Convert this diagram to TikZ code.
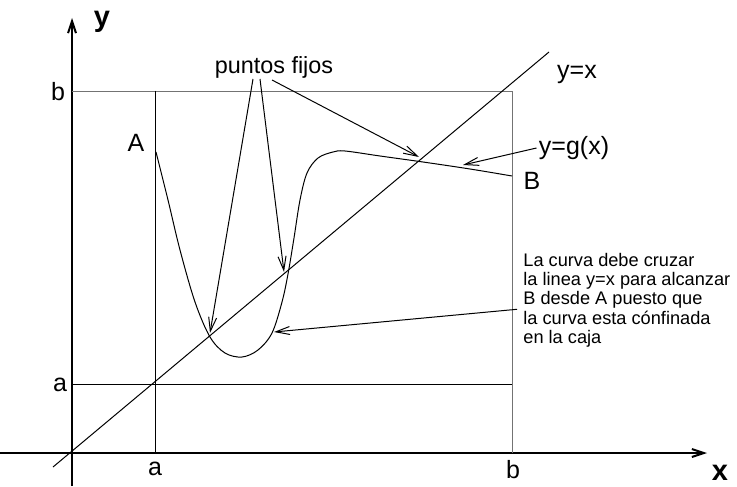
\documentclass[tikz,border=0pt]{standalone}
\usepackage{fontspec}
\setmainfont{Liberation Sans}
\usetikzlibrary{arrows.meta, calc}
\tikzset{
  eje/.style={line width=1pt, -{Straight Barb[length=6pt,width=4pt]}},
  caja/.style={line width=0.4pt},
  cajagris/.style={caja, draw=black!55},
  curva/.style={line width=0.5pt},
  flecha/.style={line width=0.5pt, -{Straight Barb[length=7pt,width=4pt]}},
  etiq/.style={font=\fontsize{12.5}{15}\selectfont, inner sep=0pt},
  ejeetiq/.style={font=\fontsize{14.5}{17}\selectfont\bfseries, inner sep=0pt},
  nota/.style={font=\fontsize{9.1}{9.6}\selectfont, align=left, inner sep=0pt},
}
\begin{document}
\begin{tikzpicture}[x=0.5pt, y=-0.5pt]
  \useasboundingbox (0,0) rectangle (737,486);
  % ejes
  \coordinate (ejex0) at (0,453);
  \coordinate (ejex1) at (707,453);
  \coordinate (ejey0) at (72,486);
  \coordinate (ejey1) at (72,18);
  \draw[eje] (ejex0) -- (ejex1);
  \draw[eje] (ejey0) -- (ejey1);
  \node[ejeetiq] (xlab) at (720,473) {x};
  \node[ejeetiq] (ylab) at (102,22) {y};
  % caja [a,b]x[a,b]
  \coordinate (aa) at (155,384);
  \coordinate (ab) at (155,91);
  \coordinate (ba) at (512,384);
  \coordinate (bb) at (512,91);
  \draw[cajagris] (72,91) -- (bb) -- (512,453);
  \draw[caja] (72,384) -- (ba);
  \draw[caja] (ab) -- (155,453);
  \node[etiq] (bizq) at (58,92) {b};
  \node[etiq] (aizq) at (60,385) {a};
  \node[etiq] (aabj) at (155,469) {a};
  \node[etiq] (babj) at (513,470) {b};
  % recta y=x
  \coordinate (diag0) at (53,467);
  \coordinate (diag1) at (549,52);
  \draw[curva] (diag0) -- (diag1);
  \node[etiq] (yx) at (577,74) {y=x};
  % curva y=g(x)
  \coordinate (ini) at (156,152);
  \coordinate (fin) at (512,176);
  \draw[curva] plot[smooth, tension=0.55] coordinates {(ini) (168,200) (180,250)
    (195,302) (210,337) (225,353) (242,357) (258,350) (272,333) (282,302)
    (288,274) (294,238) (300,200) (307,173) (318,158) (333,152) (345,151)
    (380,156) (423,162) (470,169) (fin)};
  \node[etiq] (Alab) at (136,143) {A};
  \node[etiq] (Blab) at (532,181) {B};
  \node[etiq] (gx) at (574,148) {y=g(x)};
  % puntos fijos
  \node[etiq, font=\fontsize{11.7}{14}\selectfont, anchor=south] (fijos) at (274,79) {puntos fijos};
  \coordinate (pf1) at (210,333);
  \coordinate (pf2) at (284,272);
  \coordinate (pf3) at (419,157);
  \draw[flecha] ($(fijos.south)+(-21,0)$) -- (pf1);
  \draw[flecha] ($(fijos.south)+(-14,0)$) -- (pf2);
  \draw[flecha] ($(fijos.south)+(-2,1)$) -- (pf3);
  \coordinate (gxpt) at (463,165);
  \draw[flecha] ($(gx.west)+(-2,0)$) -- (gxpt);
  % nota
  \node[nota, anchor=north west] (nota) at (523,253)
    {La curva debe cruzar\\la linea y=x para alcanzar\\B desde A puesto que\\la curva esta cónfinada\\en la caja};
  \coordinate (notapt) at (274,332);
  \draw[flecha] ($(nota.west)+(-6,9)$) -- (notapt);
\end{tikzpicture}
\end{document}
